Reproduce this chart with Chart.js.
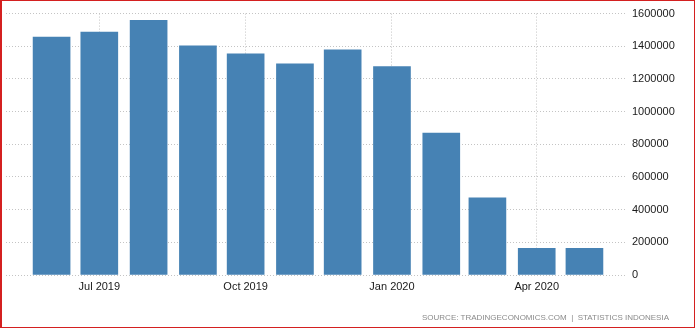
<!DOCTYPE html>
<html><head><meta charset="utf-8">
<script src="https://cdn.jsdelivr.net/npm/chart.js@4.4.1/dist/chart.umd.min.js"></script>
<style>
html,body{margin:0;padding:0;background:#fff;}
#wrap{position:relative;width:695px;height:328px;overflow:hidden;background:#fff;}
#frame{position:absolute;left:0;top:0;width:695px;height:328px;box-sizing:border-box;border:1px solid #d42020;border-left-width:2px;pointer-events:none;}
#src{position:absolute;right:26px;top:313px;font:8px "Liberation Sans",sans-serif;color:#8a8a8a;letter-spacing:0px;white-space:nowrap;}
</style></head><body>
<div id="wrap"><canvas id="c" width="695" height="328"></canvas><div id="src">SOURCE: TRADINGECONOMICS.COM &nbsp;|&nbsp; STATISTICS INDONESIA</div><div id="frame"></div></div>
<script>
const months = ["2019-06","2019-07","2019-08","2019-09","2019-10","2019-11","2019-12","2020-01","2020-02","2020-03","2020-04","2020-05"];
const values = [1456000,1487000,1559000,1402000,1353000,1293000,1378000,1275000,869000,473000,164000,164000];
const tickMonths = ["2019-07","2019-10","2020-01","2020-04"];
const tickLabels = ["Jul 2019","Oct 2019","Jan 2020","Apr 2020"];
const yTicks = [0,200000,400000,600000,800000,1000000,1200000,1400000,1600000];

function dayOf(m){
  const p = m.split("-");
  return (Date.UTC(+p[0], +p[1]-1, 1) - Date.UTC(2019,5,1)) / 86400000;
}
const font = {family:"'Liberation Sans', Arial, sans-serif", size:11};

new Chart(document.getElementById('c'), {
  type:'bar',
  data:{datasets:[{
    data: months.map((m,i)=>({x:dayOf(m), y:values[i]})),
    backgroundColor:'#4682b4', borderWidth:0, barThickness:37
  }]},
  options:{
    responsive:false, animation:false,
    layout:{padding:{top:11,left:6,right:0,bottom:0}},
    plugins:{legend:{display:false}, tooltip:{enabled:false}},
    scales:{
      x:{type:'linear', min:-28.66, max:360.5, offset:false,
        grid:{color:'#c4c4c4', drawTicks:false, offset:false},
        border:{display:false, dash:[1,2]},
        afterBuildTicks: s => { s.ticks = tickMonths.map(m=>({value:dayOf(m)})); },
        afterFit: s => { s.height = 53; },
        ticks:{padding:5, color:'#1a1a1a', font:font, autoSkip:false, maxRotation:0,
          callback:(v)=>{ const i = tickMonths.findIndex(m=>dayOf(m)===v); return i>=0 ? tickLabels[i] : ''; }}
      },
      y:{position:'right', min:0, max:1600000,
        grid:{color:'#c4c4c4', drawTicks:false},
        border:{display:false, dash:[1,2]},
        afterBuildTicks: s => { s.ticks = yTicks.map(v=>({value:v})); },
        afterFit: s => { s.width = 70; },
        ticks:{padding:7, color:'#1a1a1a', font:font, callback:v=>String(v)}
      }
    }
  }
});
</script>
</body></html>
